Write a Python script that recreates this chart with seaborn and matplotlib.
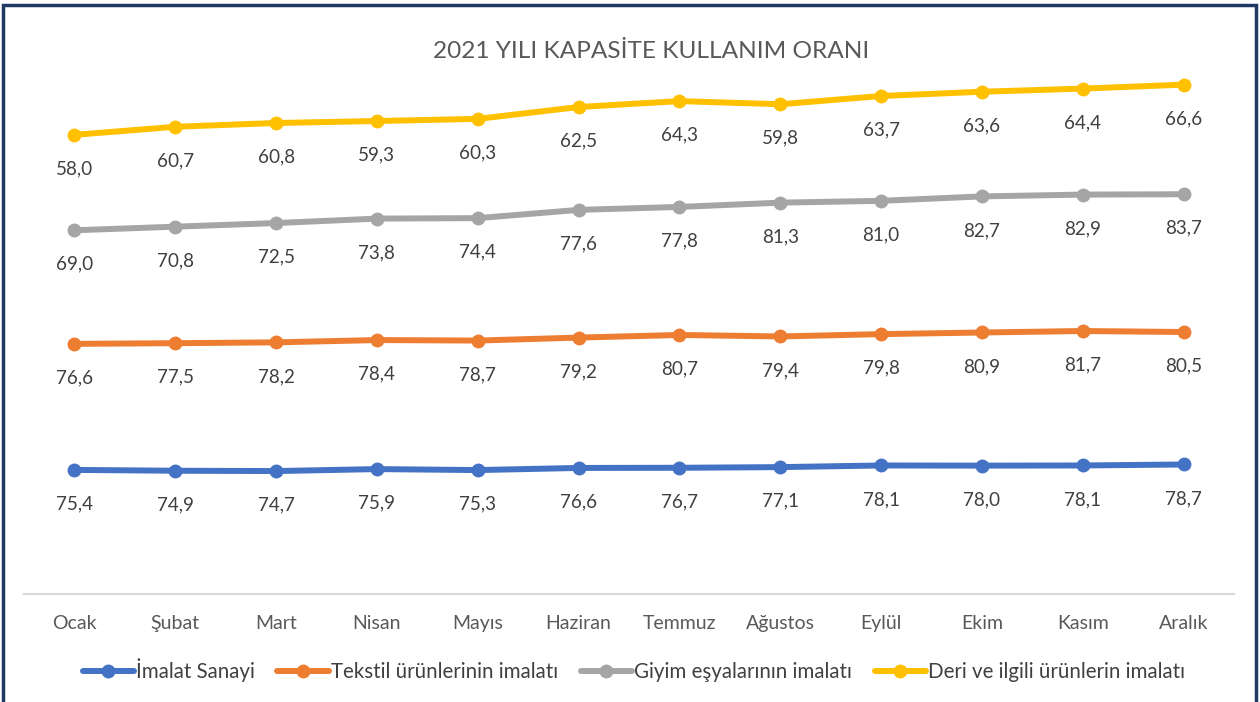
import numpy as np
import pandas as pd
import matplotlib
matplotlib.use("Agg")
import matplotlib.pyplot as plt
from matplotlib.lines import Line2D
from matplotlib.patches import Rectangle
import seaborn as sns

months = ["Ocak", "Şubat", "Mart", "Nisan", "Mayıs", "Haziran", "Temmuz",
          "Ağustos", "Eylül", "Ekim", "Kasım", "Aralık"]
series_names = ["İmalat Sanayi", "Tekstil ürünlerinin imalatı",
                "Giyim eşyalarının imalatı", "Deri ve ilgili ürünlerin imalatı"]
imalat = [75.4, 74.9, 74.7, 75.9, 75.3, 76.6, 76.7, 77.1, 78.1, 78.0, 78.1, 78.7]
tekstil = [76.6, 77.5, 78.2, 78.4, 78.7, 79.2, 80.7, 79.4, 79.8, 80.9, 81.7, 80.5]
giyim = [69.0, 70.8, 72.5, 73.8, 74.4, 77.6, 77.8, 81.3, 81.0, 82.7, 82.9, 83.7]
deri = [58.0, 60.7, 60.8, 59.3, 60.3, 62.5, 64.3, 59.8, 63.7, 63.6, 64.4, 66.6]
title = "2021 YILI KAPASİTE KULLANIM ORANI"

colors = ["#4472C4", "#ED7D31", "#A5A5A5", "#FFC000"]

sns.set_style("white")
plt.rcParams["font.family"] = ["Lato", "DejaVu Sans"]

fig = plt.figure(figsize=(12.6, 7.02), dpi=100)
ax = fig.add_axes([24 / 1260, 108 / 702, 1210 / 1260, 576 / 702])

values = [imalat, tekstil, giyim, deri]
stacked = np.cumsum(np.array(values), axis=0)
x = np.arange(len(months))

for i, name in enumerate(series_names):
    df = pd.DataFrame({"x": x, "y": stacked[i]})
    sns.lineplot(data=df, x="x", y="y", ax=ax, color=colors[i], linewidth=4.3,
                 marker="o", markersize=10, markeredgewidth=0, legend=False)
    for xi, yi, v in zip(x, stacked[i], values[i]):
        ax.annotate(f"{v:.1f}".replace(".", ","), (xi, yi), xytext=(0, -24.5),
                    textcoords="offset points", ha="center", va="center",
                    fontsize=13.6, color="#404040")

ax.set_xlim(-0.5, len(months) - 0.5)
ax.set_ylim(0, 350)
ax.set_xticks(x)
ax.set_xticklabels(months, fontsize=14, color="#595959")
ax.tick_params(axis="x", length=0, pad=15)
ax.set_yticks([])
ax.set_xlabel("")
ax.set_ylabel("")
for s in ["top", "left", "right"]:
    ax.spines[s].set_visible(False)
ax.spines["bottom"].set_color("#D9D9D9")
ax.spines["bottom"].set_linewidth(1.6)
ax.patch.set_alpha(0)

fig.text(651 / 1260, 1 - 51 / 702, title, ha="center", va="center", fontsize=17.6,
         color="#595959")

handles = [Line2D([0], [0], color=c, lw=4.3, marker="o", markersize=10,
                  markeredgewidth=0) for c in colors]
fig.legend(handles, series_names, loc="center", bbox_to_anchor=(0.503, 1 - 670 / 702),
           ncol=4, frameon=False, fontsize=14.8, handlelength=2.5,
           handletextpad=0.1, columnspacing=1.1, labelcolor="#404040")

fig.add_artist(Rectangle((3 / 1260, -0.05), 1253 / 1260, 1.05 - 5 / 702,
                         transform=fig.transFigure, fill=False,
                         edgecolor="#1F3864", linewidth=2.5))

fig.savefig("out.png", dpi=100)
